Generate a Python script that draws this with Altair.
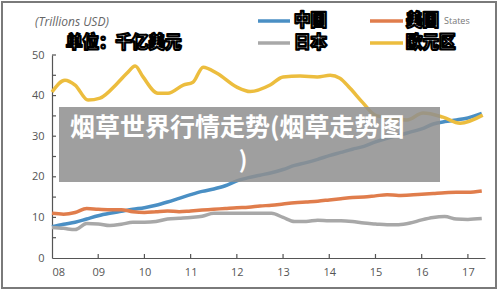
import altair as alt
import pandas as pd

# ---------------- data ----------------
years_q = [8.0, 8.25, 8.5, 8.75, 9.0, 9.25, 9.5, 9.75, 10.0, 10.25, 10.5, 10.75,
           11.0, 11.25, 11.5, 11.75, 12.0, 12.25, 12.5, 12.75, 13.0, 13.25, 13.5, 13.75,
           14.0, 14.25, 14.5, 14.75, 15.0, 15.25, 15.5, 15.75, 16.0, 16.25, 16.5, 16.75,
           17.0, 17.3]
china = [7.7, 8.3, 8.8, 9.6, 10.4, 11.0, 11.5, 12.0, 12.4, 13.0, 13.8, 14.7,
         15.6, 16.4, 17.0, 17.8, 19.0, 19.8, 20.4, 21.0, 21.8, 22.8, 23.5, 24.3,
         25.2, 26.0, 26.8, 27.5, 28.6, 29.5, 30.2, 31.0, 31.8, 33.0, 33.6, 34.0,
         34.5, 35.6]
usa = [11.0, 10.8, 11.2, 12.2, 12.0, 11.9, 11.9, 11.4, 11.2, 11.4, 11.6, 11.4,
       11.6, 11.8, 12.0, 12.2, 12.4, 12.5, 12.8, 13.0, 13.3, 13.6, 13.8, 14.0,
       14.3, 14.6, 14.9, 15.0, 15.3, 15.6, 15.4, 15.5, 15.7, 15.9, 16.1, 16.2,
       16.2, 16.5]
japan = [7.5, 7.3, 7.0, 8.5, 8.4, 8.0, 8.3, 8.8, 8.8, 9.0, 9.6, 9.8,
         10.0, 10.3, 11.0, 11.0, 11.0, 11.0, 11.0, 11.0, 10.0, 9.0, 9.0, 9.3,
         9.2, 9.2, 9.0, 8.6, 8.4, 8.2, 8.2, 8.6, 9.4, 10.0, 10.2, 9.6,
         9.5, 9.7]
years_eu = [8.0, 8.28, 8.5, 8.78, 9.04, 9.41, 9.62, 9.8, 9.97, 10.29, 10.51, 10.84,
            11.05, 11.27, 11.57, 12.0, 12.29, 12.72, 13.0, 13.37, 13.74, 14.02, 14.23,
            14.45, 14.73, 14.99, 15.32, 15.68, 16.03, 16.46, 16.83, 17.32]
euro = [40.9, 43.8, 42.6, 38.9, 39.4, 43.0, 45.5, 47.3, 44.6, 40.6, 40.6, 42.6,
        43.3, 47.0, 45.5, 42.1, 41.0, 42.6, 44.6, 44.8, 44.6, 45.0, 44.3,
        41.8, 38.2, 35.2, 34.5, 34.0, 35.7, 34.7, 33.2, 35.2]

series_names = ["中国", "美国", "日本", "欧元区"]
series_colors = ["#4a8fc4", "#e07d4c", "#a8a8a8", "#ecbd3e"]
y_ticks = [0, 5, 10, 15, 20, 25, 30, 35, 40, 45, 50]
x_ticks = [8, 9, 10, 11, 12, 13, 14, 15, 16, 17]

rows = []
for yrs, vals, name in [(years_q, china, "中国"), (years_q, usa, "美国"),
                        (years_q, japan, "日本"), (years_eu, euro, "欧元区")]:
    for a, b in zip(yrs, vals):
        rows.append({"year": a, "value": b, "series": name})
df = pd.DataFrame(rows)

CJK = "Noto Sans CJK SC"
one = alt.Data(values=[{}])

xscale = alt.Scale(domain=[8, 17.37], nice=False, zero=False)
yscale = alt.Scale(domain=[0, 50], nice=False)

lines = alt.Chart(df).mark_line(strokeWidth=3.5, interpolate="monotone").encode(
    x=alt.X("year:Q", scale=xscale, title=None,
            axis=alt.Axis(values=x_ticks, ticks=False, grid=False,
                          labelExpr="datum.value < 10 ? '0' + datum.value : '' + datum.value",
                          labelFont="Open Sans", labelFontSize=11, labelColor="#555",
                          labelPadding=8, domainColor="#555", domainWidth=1.2)),
    y=alt.Y("value:Q", scale=yscale, title=None,
            axis=alt.Axis(values=y_ticks, ticks=False, grid=False,
                          labelFont="Open Sans", labelFontSize=11, labelColor="#555",
                          labelPadding=8, domainColor="#555", domainWidth=1.2)),
    color=alt.Color("series:N", scale=alt.Scale(domain=series_names, range=series_colors),
                    legend=None),
    order=alt.Order("year:Q"),
)

ytick_layer = alt.Chart(pd.DataFrame({"t": y_ticks[1:]})).mark_rule(color="#555", strokeWidth=1.2).encode(
    y=alt.Y("t:Q", scale=yscale, title=None), x=alt.value(0), x2=alt.value(4))
xtick_layer = alt.Chart(pd.DataFrame({"t": x_ticks[1:]})).mark_rule(color="#555", strokeWidth=1.2).encode(
    x=alt.X("t:Q", scale=xscale, title=None), y=alt.value(203), y2=alt.value(199))


def text(t, x, y, size, color="black", weight="normal", font=CJK, style="normal",
         align="left", stroke=None, sw=0):
    kw = dict(text=t, fontSize=size, color=color, fontWeight=weight, font=font,
              fontStyle=style, align=align, baseline="middle")
    if stroke:
        kw.update(stroke=stroke, strokeWidth=sw, strokeJoin="round")
    return alt.Chart(one).mark_text(**kw).encode(x=alt.value(x), y=alt.value(y))


def outlined(t, x, y, size):
    return text(t, x, y, size, color="white", weight=900, stroke="black", sw=2.2)


def legend_line(x1, x2, y, color):
    return alt.Chart(one).mark_rule(color=color, strokeWidth=3.5).encode(
        x=alt.value(x1), x2=alt.value(x2), y=alt.value(y))


annos = []
annos.append(text("(Trillions USD)", -17, -33, 12, color="#666", font="Open Sans", style="italic"))
annos.append(outlined("单位：千亿美元", 14, -12, 16.5))
annos.append(legend_line(206, 238, -34, series_colors[0]))
annos.append(outlined("中国", 242, -34, 16.5))
annos.append(legend_line(318, 351, -34, series_colors[1]))
annos.append(outlined("美国", 354, -34, 16.5))
annos.append(text("States", 392, -34, 9, color="#777", font="Open Sans"))
annos.append(legend_line(206, 238, -12, series_colors[2]))
annos.append(outlined("日本", 242, -12, 16.5))
annos.append(legend_line(318, 351, -12, series_colors[3]))
annos.append(outlined("欧元区", 354, -12, 16.5))

box = alt.Chart(one).mark_rect(color="#8f8f8f", opacity=0.86).encode(
    x=alt.value(7), x2=alt.value(388), y=alt.value(52), y2=alt.value(127))
box_t1 = text("烟草世界行情走势(烟草走势图", 18, 73, 25, color="white", weight="bold")
box_t2 = text(")", 191, 106, 23, color="white", weight="bold", align="center")

frame = alt.Chart(one).mark_rect(fill=None, stroke="#7a7a7a", strokeWidth=2).encode(
    x=alt.value(-50), x2=alt.value(444), y=alt.value(-53), y2=alt.value(233))

chart = alt.layer(lines, ytick_layer, xtick_layer, *annos, box, box_t1, box_t2, frame).properties(
    width=433, height=203,
    padding={"left": 52, "top": 55, "right": 15, "bottom": 33},
    autosize="none", background="white",
).configure_view(stroke=None)

chart.save("out.html", embed_options={"renderer": "svg", "actions": False})
